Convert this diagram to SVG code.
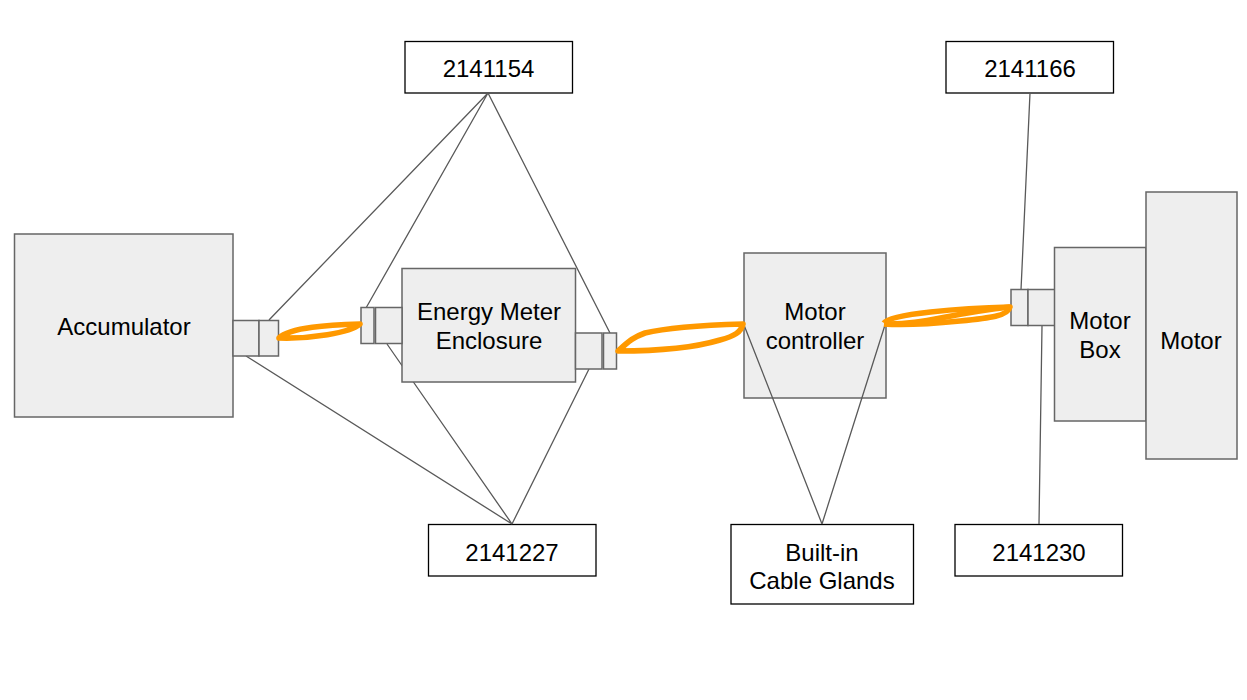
<svg xmlns="http://www.w3.org/2000/svg" width="1247" height="700" viewBox="0 0 1247 700">
<style>
.b{fill:#eeeeee;stroke:#666666;stroke-width:1.5}
.w{fill:#ffffff;stroke:#000000;stroke-width:1.3}
.t{font-family:"Liberation Sans",Arial,sans-serif;font-size:24px;fill:#000000;text-anchor:middle}
.l{stroke:#595959;stroke-width:1.3;fill:none}
.o{stroke:#ff9900;stroke-width:5.6;fill:none;stroke-linejoin:round}
</style>
<rect width="1247" height="700" fill="#ffffff"/>
<g id="accumulator"><rect class="b" x="14.500" y="234" width="218.500" height="183"/><text class="t" x="124" y="335">Accumulator</text></g>
<g id="motor-controller"><rect class="b" x="744" y="253" width="142" height="145"/><text class="t" x="815" y="320">Motor</text><text class="t" x="815" y="349">controller</text></g>
<g id="n2141154"><rect class="w" x="405" y="41.500" width="167.500" height="51.500"/><text class="t" x="488.500" y="77">2141154</text></g>
<g id="n2141227"><rect class="w" x="428.500" y="524.500" width="167.500" height="51.500"/><text class="t" x="512" y="561">2141227</text></g>
<g id="n2141166"><rect class="w" x="946" y="41.500" width="167.500" height="51.500"/><text class="t" x="1030" y="77">2141166</text></g>
<g id="n2141230"><rect class="w" x="955" y="524.500" width="167.500" height="51.500"/><text class="t" x="1039" y="561">2141230</text></g>
<g id="glands"><rect class="w" x="731" y="524.500" width="182.500" height="79.500"/><text class="t" x="822" y="561">Built-in</text><text class="t" x="822" y="589">Cable Glands</text></g>
<g id="connectors">
<path class="l" d="M488 93L269 320M488 93L366 308M488 93L610 333M246 356L512 524M387 344L512 524M589 369L512 524M744 325L822 524M885 325L822 524M1030 93L1021 290M1042 326L1039 524"/>
</g>
<g id="energy-meter"><rect class="b" x="402" y="268.500" width="173.500" height="113.500"/><text class="t" x="489" y="320">Energy Meter</text><text class="t" x="489" y="349">Enclosure</text></g>
<g id="connector-a"><rect class="b" x="233" y="320.500" width="26" height="35.500"/><rect class="b" x="259" y="320.500" width="19.500" height="35.500"/></g>
<g id="connector-b"><rect class="b" x="361" y="307.500" width="13" height="36"/><rect class="b" x="375.500" y="307.500" width="26.500" height="36"/></g>
<g id="connector-c"><rect class="b" x="575.500" y="333" width="26.500" height="36"/><rect class="b" x="603.500" y="333" width="13" height="36"/></g>
<g id="connector-d"><rect class="b" x="1011" y="289.500" width="17" height="36"/><rect class="b" x="1028" y="289.500" width="27" height="36"/></g>
<g id="motor-box"><rect class="b" x="1054.500" y="247.500" width="91.500" height="173.500"/><text class="t" x="1100" y="329">Motor</text><text class="t" x="1100" y="358">Box</text></g>
<g id="motor"><rect class="b" x="1146" y="192" width="91" height="267"/><text class="t" x="1191" y="349">Motor</text></g>
<g id="cables">
<path class="o" d="M279 338C290 327 330 325 360 324C350 333 310 339 279 338Z"/>
<path class="o" d="M618 351C630 340 634 337 645 333C670 327 710 325 743 324C741 332 735 336 720 340C690 349 650 351 618 351Z"/>
<path class="o" d="M884 323C890 314 960 308 1010 307C1008 316 990 318 960 321C940 323 910 326 884 324"/>
<path class="o" d="M884 324C925 325 945 314 1010 307"/>
</g>
</svg>
